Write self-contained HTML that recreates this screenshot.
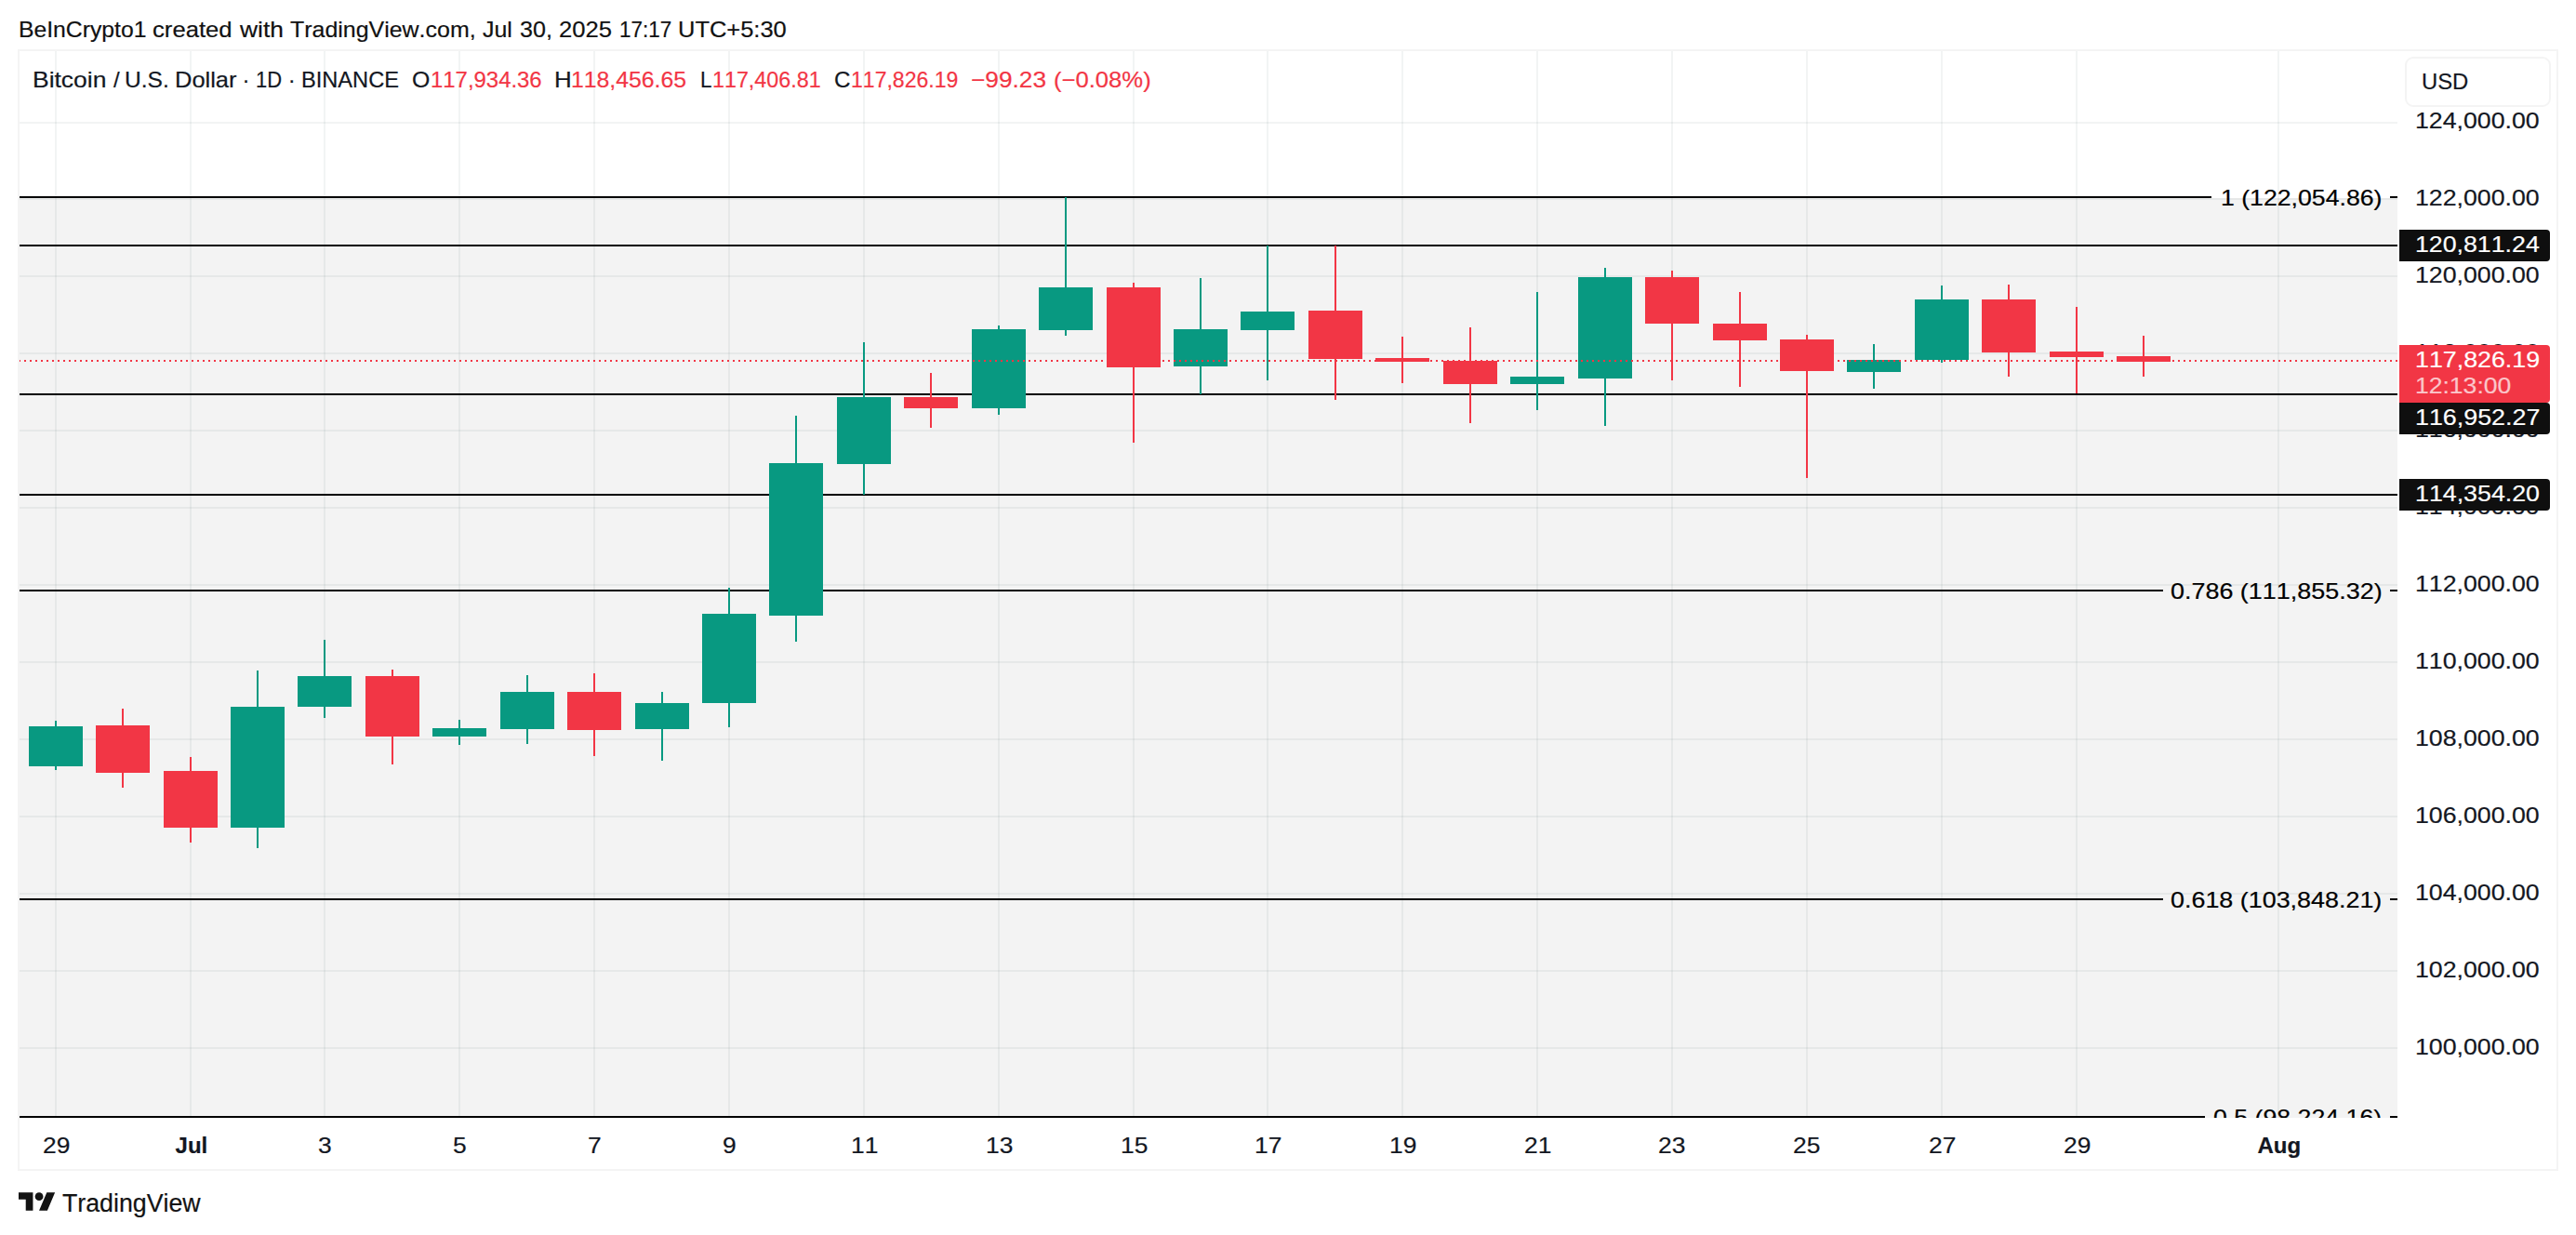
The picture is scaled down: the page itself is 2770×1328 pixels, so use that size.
<!DOCTYPE html>
<html lang="en"><head><meta charset="utf-8"><title>BTCUSD chart</title>
<style>
html,body{margin:0;padding:0;background:#fff;}
body{position:relative;width:2770px;height:1328px;overflow:hidden;font-family:'Liberation Sans', sans-serif;color:#131722;}
.t{position:absolute;white-space:pre;line-height:40px;font-size:24px;transform-origin:0 0;font-kerning:none;-webkit-text-stroke:0.2px;}
#frame{position:absolute;left:19px;top:53px;width:2728px;height:1202px;border:2px solid #f4f4f4;}
#pane{position:absolute;left:21px;top:55px;width:2557px;height:1147px;overflow:hidden;background:#fff;}
#pane svg.chart{position:absolute;left:0;top:0;display:block;}
#paxis{position:absolute;left:0;top:0;width:0;height:0;}
#taxis{position:absolute;left:0;top:0;width:0;height:0;}
.usd{position:absolute;left:2586px;top:61px;width:152.5px;height:49.5px;border:2px solid #f4f4f4;border-radius:9px;background:#fff;box-sizing:content-box;}
.lab{position:absolute;left:2580px;width:162px;border-radius:0 4px 4px 0;}
#logo{position:absolute;left:19.9px;top:1277.7px;width:39.7px;height:30.2px;}
</style></head>
<body>
<header><span class="t" style="left:19.54px;top:11.80px;transform:scaleX(1.0303);color:#111111;">BeInCrypto1 </span><span class="t" style="left:164.13px;top:11.80px;transform:scaleX(1.0697);color:#111111;">created </span><span class="t" style="left:258.20px;top:11.80px;transform:scaleX(1.0976);color:#111111;">with </span><span class="t" style="left:311.78px;top:11.80px;transform:scaleX(1.0391);color:#111111;">TradingView.com, </span><span class="t" style="left:518.78px;top:11.80px;transform:scaleX(1.0386);color:#111111;">Jul </span><span class="t" style="left:558.86px;top:11.80px;transform:scaleX(1.0446);color:#111111;">30, </span><span class="t" style="left:601.47px;top:11.80px;transform:scaleX(1.0673);color:#111111;">2025 </span><span class="t" style="left:665.96px;top:11.80px;transform:scaleX(0.9351);color:#111111;">17:17 </span><span class="t" style="left:729.14px;top:11.80px;transform:scaleX(1.0611);color:#111111;">UTC+5:30 </span></header>
<div id="frame"></div>
<main id="pane">
<svg class="chart" width="2557" height="1147" viewBox="21 55 2557 1147" shape-rendering="crispEdges"><rect x="21" y="213" width="2557" height="989" fill="#f3f3f3"/>
<g fill="rgba(55,84,84,0.065)"><rect x="59" y="55" width="2" height="1147"/><rect x="204" y="55" width="2" height="1147"/><rect x="348" y="55" width="2" height="1147"/><rect x="493" y="55" width="2" height="1147"/><rect x="638" y="55" width="2" height="1147"/><rect x="783" y="55" width="2" height="1147"/><rect x="928" y="55" width="2" height="1147"/><rect x="1073" y="55" width="2" height="1147"/><rect x="1218" y="55" width="2" height="1147"/><rect x="1362" y="55" width="2" height="1147"/><rect x="1507" y="55" width="2" height="1147"/><rect x="1652" y="55" width="2" height="1147"/><rect x="1797" y="55" width="2" height="1147"/><rect x="1942" y="55" width="2" height="1147"/><rect x="2087" y="55" width="2" height="1147"/><rect x="2232" y="55" width="2" height="1147"/><rect x="2449" y="55" width="2" height="1147"/><rect x="21" y="131" width="2557" height="2"/><rect x="21" y="213" width="2557" height="2"/><rect x="21" y="296" width="2557" height="2"/><rect x="21" y="379" width="2557" height="2"/><rect x="21" y="462" width="2557" height="2"/><rect x="21" y="545" width="2557" height="2"/><rect x="21" y="628" width="2557" height="2"/><rect x="21" y="711" width="2557" height="2"/><rect x="21" y="794" width="2557" height="2"/><rect x="21" y="877" width="2557" height="2"/><rect x="21" y="960" width="2557" height="2"/><rect x="21" y="1043" width="2557" height="2"/><rect x="21" y="1126" width="2557" height="2"/></g>
<g fill="#000"><rect x="21" y="211" width="2357" height="2"/><rect x="2570" y="211" width="8" height="2"/><rect x="21" y="263" width="2557" height="2"/><rect x="21" y="423" width="2557" height="2"/><rect x="21" y="531" width="2557" height="2"/><rect x="21" y="634" width="2304.5" height="2"/><rect x="2570" y="634" width="8" height="2"/><rect x="21" y="966" width="2304.5" height="2"/><rect x="2570" y="966" width="8" height="2"/><rect x="21" y="1200" width="2349.5" height="2"/><rect x="2570" y="1200" width="8" height="2"/></g>
<g fill="#089981"><rect x="59" y="775" width="2" height="53"/><rect x="31" y="781" width="58" height="43"/><rect x="276" y="721" width="2" height="191"/><rect x="248" y="760" width="58" height="130"/><rect x="348" y="688" width="2" height="84"/><rect x="320" y="727" width="58" height="33"/><rect x="493" y="774" width="2" height="27"/><rect x="465" y="783" width="58" height="9"/><rect x="566" y="726" width="2" height="74"/><rect x="538" y="744" width="58" height="40"/><rect x="711" y="744" width="2" height="74"/><rect x="683" y="756" width="58" height="28"/><rect x="783" y="632" width="2" height="150"/><rect x="755" y="660" width="58" height="96"/><rect x="855" y="447" width="2" height="243"/><rect x="827" y="498" width="58" height="164"/><rect x="928" y="368" width="2" height="164"/><rect x="900" y="427" width="58" height="72"/><rect x="1073" y="350" width="2" height="96"/><rect x="1045" y="354" width="58" height="85"/><rect x="1145" y="212" width="2" height="149"/><rect x="1117" y="309" width="58" height="46"/><rect x="1290" y="299" width="2" height="125"/><rect x="1262" y="354" width="58" height="40"/><rect x="1362" y="264" width="2" height="145"/><rect x="1334" y="335" width="58" height="20"/><rect x="1652" y="314" width="2" height="127"/><rect x="1624" y="405" width="58" height="8"/><rect x="1725" y="288" width="2" height="170"/><rect x="1697" y="298" width="58" height="109"/><rect x="2014" y="370" width="2" height="48"/><rect x="1986" y="387" width="58" height="13"/><rect x="2087" y="307" width="2" height="83"/><rect x="2059" y="322" width="58" height="65"/></g>
<g fill="#f23645"><rect x="131" y="762" width="2" height="85"/><rect x="103" y="780" width="58" height="51"/><rect x="204" y="814" width="2" height="92"/><rect x="176" y="829" width="58" height="61"/><rect x="421" y="720" width="2" height="102"/><rect x="393" y="727" width="58" height="65"/><rect x="638" y="724" width="2" height="89"/><rect x="610" y="744" width="58" height="41"/><rect x="1000" y="401" width="2" height="59"/><rect x="972" y="427" width="58" height="12"/><rect x="1218" y="304" width="2" height="172"/><rect x="1190" y="309" width="58" height="86"/><rect x="1435" y="264" width="2" height="166"/><rect x="1407" y="334" width="58" height="52"/><rect x="1507" y="362" width="2" height="50"/><rect x="1479" y="385" width="58" height="4"/><rect x="1580" y="352" width="2" height="103"/><rect x="1552" y="388" width="58" height="25"/><rect x="1797" y="291" width="2" height="118"/><rect x="1769" y="298" width="58" height="50"/><rect x="1870" y="314" width="2" height="102"/><rect x="1842" y="348" width="58" height="18"/><rect x="1942" y="360" width="2" height="154"/><rect x="1914" y="365" width="58" height="34"/><rect x="2159" y="306" width="2" height="99"/><rect x="2131" y="322" width="58" height="57"/><rect x="2232" y="330" width="2" height="93"/><rect x="2204" y="378" width="58" height="6"/><rect x="2304" y="361" width="2" height="44"/><rect x="2276" y="383" width="58" height="6"/></g>
<line x1="20" y1="388" x2="2578" y2="388" stroke="#f23645" stroke-width="2" stroke-dasharray="2 4"/></svg>
<div class="legend"><span class="t" style="left:14.30px;top:10.80px;transform:scaleX(1.1022);">Bitcoin </span><span class="t" style="left:100.95px;top:10.80px;">/ </span><span class="t" style="left:113.31px;top:10.80px;transform:scaleX(1.0222);">U.S. </span><span class="t" style="left:166.78px;top:10.80px;transform:scaleX(1.0606);">Dollar </span><span class="t" style="left:239.40px;top:10.80px;">· </span><span class="t" style="left:253.60px;top:10.80px;transform:scaleX(0.9153);">1D </span><span class="t" style="left:288.70px;top:10.80px;">· </span><span class="t" style="left:303.03px;top:10.80px;transform:scaleX(0.9841);">BINANCE </span><span class="t" style="left:422.11px;top:10.80px;transform:scaleX(1.0338);">O </span><span class="t" style="left:442.26px;top:10.80px;transform:scaleX(0.9962);color:#f23645;">117,934.36 </span><span class="t" style="left:574.74px;top:10.80px;transform:scaleX(1.0792);">H </span><span class="t" style="left:593.19px;top:10.80px;transform:scaleX(1.0328);color:#f23645;">118,456.65 </span><span class="t" style="left:731.63px;top:10.80px;transform:scaleX(0.9333);">L </span><span class="t" style="left:745.40px;top:10.80px;transform:scaleX(0.9706);color:#f23645;">117,406.81 </span><span class="t" style="left:875.54px;top:10.80px;transform:scaleX(1.0067);">C </span><span class="t" style="left:893.72px;top:10.80px;transform:scaleX(0.9603);color:#f23645;">117,826.19 </span><span class="t" style="left:1023.23px;top:10.80px;transform:scaleX(1.0941);color:#f23645;">−99.23 </span><span class="t" style="left:1112.00px;top:10.80px;transform:scaleX(1.0674);color:#f23645;">(−0.08%) </span></div>
<div class="fiblabels"><span class="t" style="left:2366.96px;top:137.60px;transform:scaleX(1.1110);color:#000;">1 (122,054.86)</span><span class="t" style="left:2313.38px;top:560.60px;transform:scaleX(1.1221);color:#000;">0.786 (111,855.32)</span><span class="t" style="left:2313.48px;top:892.80px;transform:scaleX(1.1206);color:#000;">0.618 (103,848.21)</span><span class="t" style="left:2359.09px;top:1127.00px;transform:scaleX(1.1133);color:#000;">0.5 (98,224.16)</span></div>
</main>
<aside id="paxis">
<div class="usd"></div>
<span class="t" style="left:2597.05px;top:110.00px;transform:scaleX(1.1123);">124,000.00</span><span class="t" style="left:2597.05px;top:193.00px;transform:scaleX(1.1123);">122,000.00</span><span class="t" style="left:2597.05px;top:276.00px;transform:scaleX(1.1123);">120,000.00</span><span class="t" style="left:2597.05px;top:359.00px;transform:scaleX(1.1123);">118,000.00</span><span class="t" style="left:2597.05px;top:442.00px;transform:scaleX(1.1123);">116,000.00</span><span class="t" style="left:2597.05px;top:525.00px;transform:scaleX(1.1123);">114,000.00</span><span class="t" style="left:2597.05px;top:608.00px;transform:scaleX(1.1123);">112,000.00</span><span class="t" style="left:2597.05px;top:691.00px;transform:scaleX(1.1123);">110,000.00</span><span class="t" style="left:2597.05px;top:774.00px;transform:scaleX(1.1123);">108,000.00</span><span class="t" style="left:2597.05px;top:857.00px;transform:scaleX(1.1123);">106,000.00</span><span class="t" style="left:2597.05px;top:940.00px;transform:scaleX(1.1123);">104,000.00</span><span class="t" style="left:2597.05px;top:1023.00px;transform:scaleX(1.1123);">102,000.00</span><span class="t" style="left:2597.05px;top:1106.00px;transform:scaleX(1.1123);">100,000.00</span><span class="t" style="left:2604.06px;top:68.20px;transform:scaleX(0.9927);">USD</span><span class="t" style="left:2597.05px;top:243.10px;transform:scaleX(1.1134);color:#fff;z-index:5">120,811.24</span><span class="t" style="left:2597.04px;top:429.30px;transform:scaleX(1.1181);color:#fff;z-index:5">116,952.27</span><span class="t" style="left:2597.05px;top:511.30px;transform:scaleX(1.1157);color:#fff;z-index:5">114,354.20</span><span class="t" style="left:2597.25px;top:367.00px;transform:scaleX(1.1164);color:#fff;z-index:7">117,826.19</span><span class="t" style="left:2597.27px;top:395.30px;transform:scaleX(1.1052);color:#fbc6ca;z-index:7">12:13:00</span>
<div class="lab" style="top:247px;height:34px;background:#0f0f0f;z-index:4"></div><div class="lab" style="top:433px;height:34px;background:#0f0f0f;z-index:4"></div><div class="lab" style="top:515px;height:34px;background:#0f0f0f;z-index:4"></div><div class="lab" style="top:371px;height:62px;background:#f23645;z-index:6"></div>
</aside>
<nav id="taxis"><span class="t" style="left:45.59px;top:1212.20px;transform:scaleX(1.1000);">29</span><span class="t" style="left:188.55px;top:1212.20px;font-weight:700;">Jul</span><span class="t" style="left:342.01px;top:1212.20px;transform:scaleX(1.1000);">3</span><span class="t" style="left:487.01px;top:1212.20px;transform:scaleX(1.1000);">5</span><span class="t" style="left:631.88px;top:1212.20px;transform:scaleX(1.1000);">7</span><span class="t" style="left:776.88px;top:1212.20px;transform:scaleX(1.1000);">9</span><span class="t" style="left:914.91px;top:1212.20px;transform:scaleX(1.1000);">11</span><span class="t" style="left:1059.78px;top:1212.20px;transform:scaleX(1.1000);">13</span><span class="t" style="left:1204.78px;top:1212.20px;transform:scaleX(1.1000);">15</span><span class="t" style="left:1348.91px;top:1212.20px;transform:scaleX(1.1000);">17</span><span class="t" style="left:1493.91px;top:1212.20px;transform:scaleX(1.1000);">19</span><span class="t" style="left:1638.59px;top:1212.20px;transform:scaleX(1.1000);">21</span><span class="t" style="left:1783.45px;top:1212.20px;transform:scaleX(1.1000);">23</span><span class="t" style="left:1928.45px;top:1212.20px;transform:scaleX(1.1000);">25</span><span class="t" style="left:2073.59px;top:1212.20px;transform:scaleX(1.1000);">27</span><span class="t" style="left:2218.59px;top:1212.20px;transform:scaleX(1.1000);">29</span><span class="t" style="left:2427.43px;top:1212.20px;font-weight:700;">Aug</span></nav>
<footer>
<svg id="logo" viewBox="0 0 36 28" preserveAspectRatio="none"><path fill="#131313" d="M14 22H7V11H0V4h14v18zM28 22h-8l7.5-18h8L28 22z"/><circle fill="#131313" cx="20" cy="8" r="4"/></svg>
<span class="t" style="left:66.71px;top:1273.90px;font-size:27px;transform:scaleX(0.9900);color:#131313;">TradingView</span>
</footer>
</body></html>
